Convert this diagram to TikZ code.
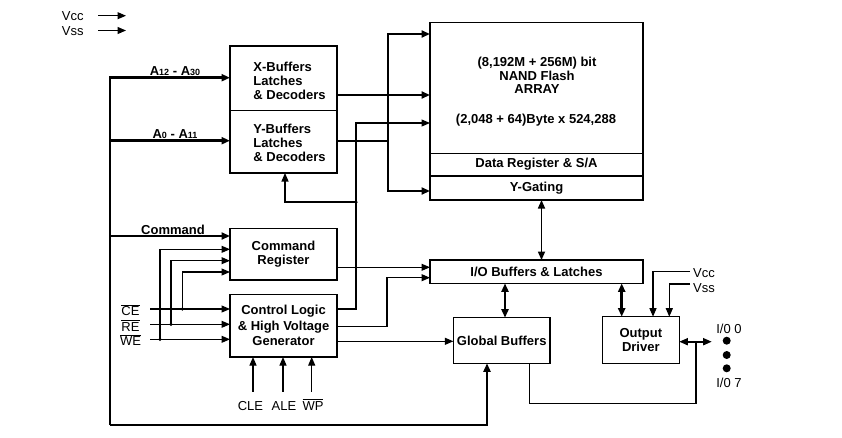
\documentclass[tikz,border=0pt]{standalone}
\usepackage{fontspec}
\setmainfont{Liberation Sans}
\usetikzlibrary{arrows.meta,calc}
\begin{document}
\begin{tikzpicture}[x=1pt,y=-1pt,
  box/.style={draw,line width=1.3pt,inner sep=0pt,outer sep=0pt},
  btxt/.style={font=\fontsize{13}{14}\selectfont\bfseries,inner sep=0pt,align=center},
  rtxt/.style={font=\fontsize{13}{14}\selectfont,inner sep=0pt},
  thin/.style={line width=1.1pt},
  thk/.style={line width=2.6pt},
  mid/.style={line width=1.6pt},
  tip/.style={-{Triangle[length=8.5pt,width=7pt]}},
  dtip/.style={{Triangle[length=8.5pt,width=7pt]}-{Triangle[length=8.5pt,width=7pt]}},
  jdot/.style={circle,fill,inner sep=0pt,minimum size=3.5pt},
  pdot/.style={circle,fill,inner sep=0pt,minimum size=8pt}
]
\useasboundingbox[fill=white] (0,0) rectangle (842,437);

% ---------- boxes ----------
\node[box,minimum width=107pt,minimum height=64.5pt] (xbuf) at (283.5,78.25) {};
\node[btxt,align=left] (xbuft) at (289.5,81) {X-Buffers\\Latches\\\& Decoders};
\node[box,minimum width=107pt,minimum height=62.5pt] (ybuf) at (283.5,141.75) {};
\node[btxt,align=left] (ybuft) at (289.5,142.5) {Y-Buffers\\Latches\\\& Decoders};

\node[box,minimum width=213pt,minimum height=131pt] (arr) at (536.5,87.8) {};
\node[btxt,font=\fontsize{13}{13.3}\selectfont\bfseries] (arrt) at (537,75.5) {(8,192M + 256M) bit\\NAND Flash\\ARRAY};
\node[btxt] (arrt2) at (536,120) {(2,048 + 64)Byte x 524,288};
\node[box,btxt,minimum width=213pt,minimum height=22.7pt] (dreg) at (536.5,164.65) {Data Register \& S/A};
\node[box,btxt,minimum width=213pt,minimum height=24pt] (ygate) at (536.5,188) {Y-Gating};

\node[box,btxt,minimum width=107pt,minimum height=51.7pt] (cmd) at (283.5,254.2) {Command\\Register};
\node[box,btxt,minimum width=107pt,minimum height=62.7pt,font=\fontsize{13}{15.5}\selectfont\bfseries] (ctrl) at (283.5,325.7) {Control Logic\\\& High Voltage\\Generator};
\node[box,btxt,minimum width=213pt,minimum height=23.3pt] (io) at (536.5,271.7) {I/O Buffers \& Latches};
\node[box,btxt,minimum width=96.7pt,minimum height=45.6pt] (glob) at (501.7,340.5) {Global Buffers};
\node[box,btxt,minimum width=77pt,minimum height=46.6pt] (outd) at (640.8,340) {Output\\Driver};

% ---------- top-left supply ----------
\node[rtxt] (vcc1) at (72.7,16) {Vcc};
\node[rtxt] (vss1) at (72.7,31) {Vss};
\coordinate (vcc1s) at (98,15.7); \coordinate (vcc1e) at (126,15.7);
\coordinate (vss1s) at (98,30.5); \coordinate (vss1e) at (126,30.5);
\draw[thin,tip] (vcc1s) -- (vcc1e);
\draw[thin,tip] (vss1s) -- (vss1e);

% ---------- address / command bus ----------
\coordinate (bA) at (110,77.7);
\coordinate (bB) at (110,140.7);
\coordinate (bC) at (110,236);
\coordinate (bD) at (110,425);
\coordinate (bE) at (487,425);
\draw[thk,tip] (bD) -- (bA) -- (bA -| xbuf.west);
\draw[thk,tip] (bB) -- (bB -| ybuf.west);
\draw[thk,tip] (bC) -- (bC -| cmd.west);
\draw[thk,tip] (bA |- bD) -- (bE) -- (glob.south -| bE);
\node[btxt] (lA) at (175,71) {A{\fontsize{9}{9}\selectfont 12} - A{\fontsize{9}{9}\selectfont 30}};
\node[btxt] (lB) at (175,134.5) {A{\fontsize{9}{9}\selectfont 0} - A{\fontsize{9}{9}\selectfont 11}};
\node[btxt] (lC) at (173,230) {Command};

% ---------- X / Y outputs ----------
\coordinate (xo) at (337,95);
\draw[thk,tip] (xbuf.east |- xo) -- (xo -| arr.west);
\coordinate (yj) at (388,141);
\coordinate (yt) at (388,34);
\coordinate (yb) at (388,191);
\draw[thk] (ybuf.east |- yj) -- (yj);
\draw[thk,tip] (yj) -- (yt) -- (yt -| arr.west);
\draw[thk,tip] (yj) -- (yb) -- (yb -| ygate.west);

% ---------- control logic outputs ----------
\coordinate (c1a) at (356,309);
\coordinate (c1b) at (356,123);
\coordinate (c1j) at (356,202);
\coordinate (c1k) at (285,202);
\draw[thin,tip] (ctrl.east |- c1a) -- (c1a) -- (c1b) -- (c1b -| arr.west);
\draw[thin,tip] (c1j) -- (c1k) -- (c1k |- ybuf.south);
\node[jdot] (c1dot) at (c1j) {};
\coordinate (c2a) at (387,326.3);
\coordinate (c2b) at (387,277.7);
\draw[thin,tip] (ctrl.east |- c2a) -- (c2a) -- (c2b) -- (c2b -| io.west);
\coordinate (c3) at (400,341.3);
\draw[thin,tip] (ctrl.east |- c3) -- (c3 -| glob.west);
\coordinate (co) at (400,267.3);
\draw[thin,tip] (cmd.east |- co) -- (co -| io.west);

% ---------- CE / RE / WE ----------
\node[rtxt,anchor=base] (ce) at (130.5,315.5) {$\overline{\mbox{CE}}$};
\node[rtxt,anchor=base] (re) at (130.5,331) {$\overline{\mbox{RE}}$};
\node[rtxt,anchor=base] (we) at (130.5,345.5) {$\overline{\mbox{WE}}$};
\coordinate (ceS) at (150,309);
\coordinate (reS) at (150,324.3);
\coordinate (weS) at (150,339.3);
\draw[thin,tip] (ceS) -- (ceS -| ctrl.west);
\draw[thin,tip] (reS) -- (reS -| ctrl.west);
\draw[thin,tip] (weS) -- (weS -| ctrl.west);
\coordinate (ceJ) at (182.3,309); \coordinate (ceU) at (182.3,272);
\coordinate (reJ) at (171,324.3); \coordinate (reU) at (171,260.7);
\coordinate (weJ) at (160,339.3); \coordinate (weU) at (160,249.3);
\draw[thin,tip] (ceJ) -- (ceU) -- (ceU -| cmd.west);
\draw[thin,tip] (reJ) -- (reU) -- (reU -| cmd.west);
\draw[thin,tip] (weJ) -- (weU) -- (weU -| cmd.west);
\node[jdot] (ced) at (ceJ) {};
\node[jdot] (red) at (reJ) {};
\node[jdot] (wed) at (weJ) {};

% ---------- CLE / ALE / WP ----------
\node[rtxt,anchor=base] (cle) at (250.5,410) {CLE};
\node[rtxt,anchor=base] (ale) at (284,410) {ALE};
\node[rtxt,anchor=base] (wp) at (313,410) {$\overline{\mbox{WP}}$};
\coordinate (cleS) at (253,391.7);
\coordinate (aleS) at (283,391.7);
\coordinate (wpS) at (311.7,391.7);
\draw[thin,tip] (cleS) -- (cleS |- ctrl.south);
\draw[thin,tip] (aleS) -- (aleS |- ctrl.south);
\draw[thin,tip] (wpS) -- (wpS |- ctrl.south);

% ---------- buffers ----------
\coordinate (yg) at (541.5,0);
\draw[mid,dtip] (ygate.south -| yg) -- (io.north -| yg);
\coordinate (ig) at (505,0);
\draw[thk,dtip] (io.south -| ig) -- (glob.north -| ig);
\coordinate (iod) at (621.7,0);
\draw[thk,dtip] (io.south -| iod) -- (outd.north -| iod);

% ---------- right supply ----------
\node[rtxt,anchor=west] (vcc2) at (693,272.7) {Vcc};
\node[rtxt,anchor=west] (vss2) at (693,288) {Vss};
\coordinate (vcE) at (690,271.7); \coordinate (vcA) at (653,271.7);
\coordinate (vsE) at (690,284);   \coordinate (vsA) at (669.3,284);
\draw[thin,tip] (vcE) -- (vcA) -- (vcA |- outd.north);
\draw[thin,tip] (vsE) -- (vsA) -- (vsA |- outd.north);

% ---------- I/O pins ----------
\coordinate (pin) at (711.7,341.7);
\draw[mid,dtip] (outd.east |- pin) -- (pin);
\coordinate (gj) at (696,341.7); \coordinate (gb) at (529.3,403.3);
\draw[thin] (glob.south -| gb) -- (gb) -- (gb -| gj) -- (gj);
\node[pdot] (d1) at (726.7,340.7) {};
\node[pdot] (d2) at (726.7,355) {};
\node[pdot] (d3) at (726.7,368.3) {};
\node[rtxt] (io0) at (729,329.3) {I/0 0};
\node[rtxt] (io7) at (729,382.7) {I/0 7};
\end{tikzpicture}
\end{document}
